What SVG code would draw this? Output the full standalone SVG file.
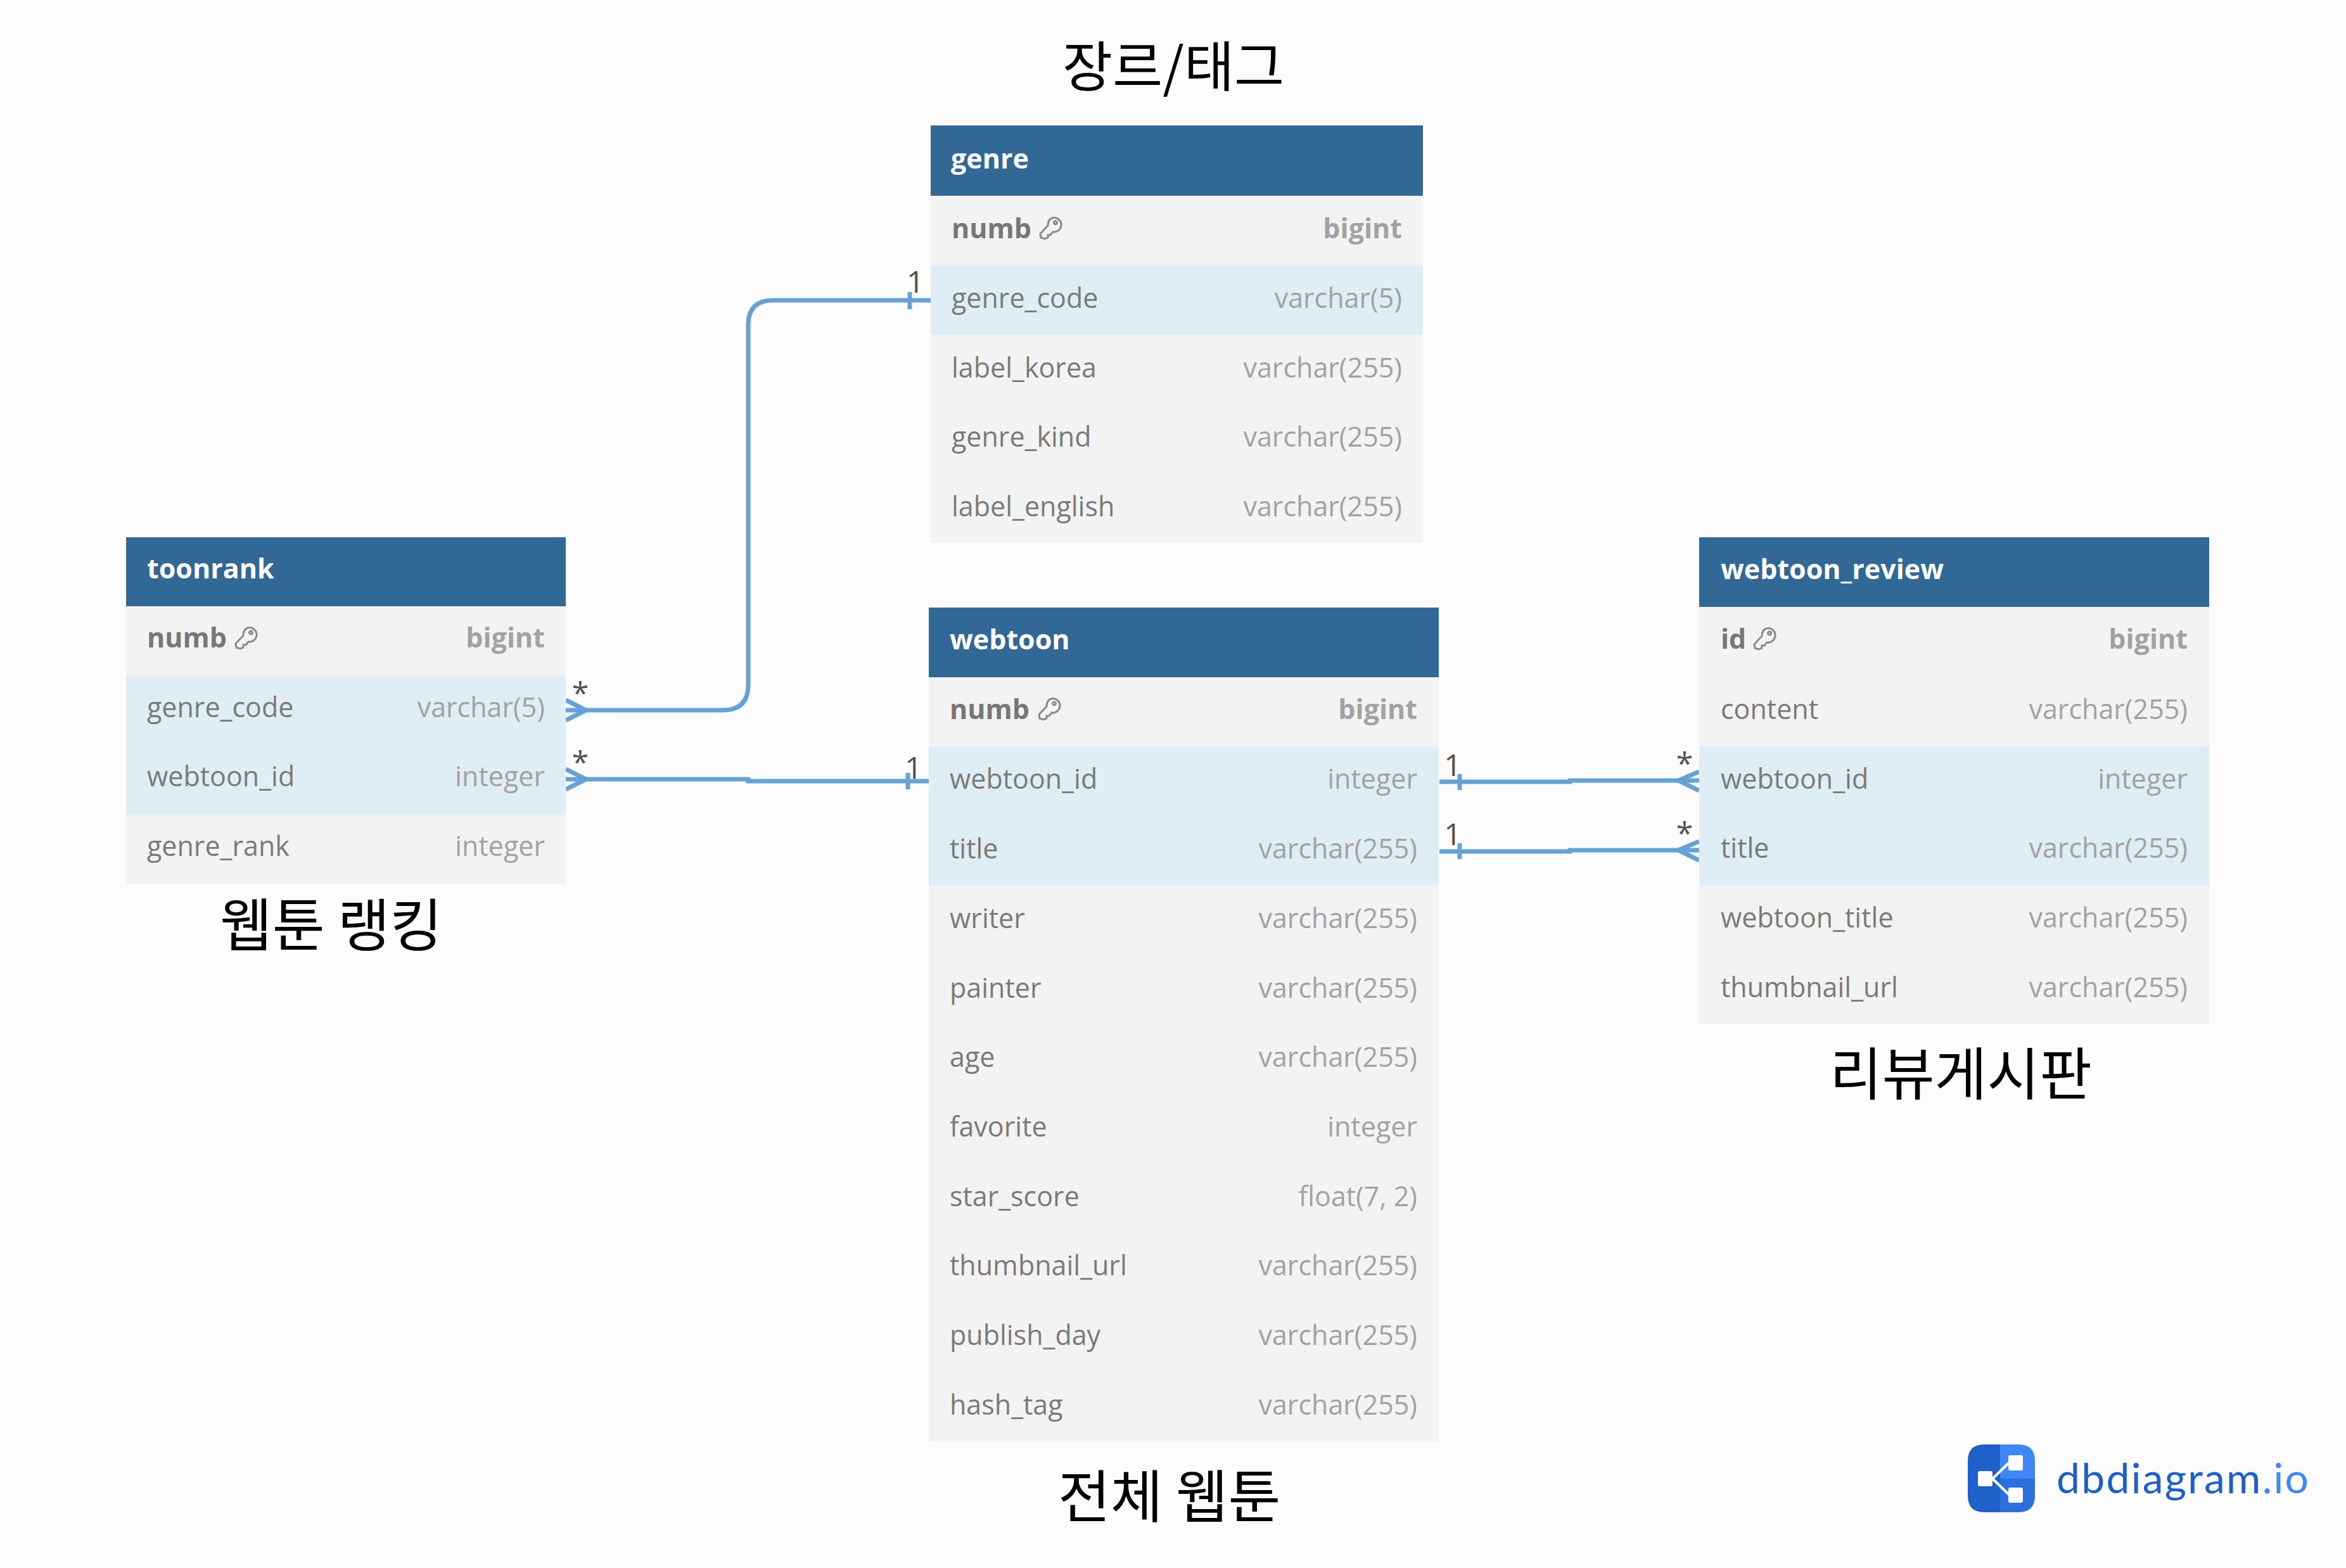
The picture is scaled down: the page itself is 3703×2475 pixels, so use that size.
<svg xmlns="http://www.w3.org/2000/svg" width="3703" height="2475" viewBox="0 0 3703 2475">
<style>
text{font-family:"Open Sans","Noto Sans",sans-serif}
.hd{fill:#316896}.r{fill:#f3f3f3}.h{fill:#dfedf5}
.t{font-size:43px;font-weight:700;fill:#fff}
.n{font-size:43px;fill:#7a7a7a}
.y{font-size:43px;fill:#a2a2a2;text-anchor:end}
.nb{font-size:43px;font-weight:700;fill:#777}
.yb{font-size:43px;font-weight:700;fill:#a2a2a2;text-anchor:end}
.c{fill:none;stroke:#66a2d6;stroke-width:7}
.m{font-size:48px;fill:#505050;text-anchor:middle}
.k{font-size:90px;fill:#000;font-family:"Noto Sans CJK KR","Noto Sans",sans-serif}
</style>
<defs>
<path id="key" d="M20 2C27 0 35 6 34 14C33 21 27 25 21 24L17 29L13 29L13 33L8 35L2 33L1 27L13 14C13 8 15 4 20 2Z M25 7A2.5 2.5 0 1 0 25.1 7Z" fill="none" stroke="#8a8a8a" stroke-width="3"/>
</defs>
<rect width="3703" height="2475" fill="#fcfcfc"/>
<g id="connectors">
<path class="c" d="M1469 474H1220Q1181 474 1181 513V1081Q1181 1121 1141 1121H893"/>
<path class="c" d="M893 1105L925 1121L893 1137"/>
<path class="c" d="M1436 461V488"/>
<path class="c" d="M893 1230H1181V1233H1466"/>
<path class="c" d="M893 1214L925 1230L893 1246"/>
<path class="c" d="M1433 1220V1246"/>
<path class="c" d="M2272 1234H2478V1232H2682"/>
<path class="c" d="M2682 1218L2649 1232L2682 1248"/>
<path class="c" d="M2304 1222V1247"/>
<path class="c" d="M2272 1344H2478V1342H2682"/>
<path class="c" d="M2682 1328L2649 1342L2682 1358"/>
<path class="c" d="M2304 1331V1356"/>
<text class="m" x="1445" y="462">1</text>
<text class="m" x="1442" y="1229">1</text>
<text class="m" x="2293" y="1225">1</text>
<text class="m" x="2293" y="1334">1</text>
<text class="m" x="916" y="1111">*</text>
<text class="m" x="916" y="1220">*</text>
<text class="m" x="2659" y="1222">*</text>
<text class="m" x="2659" y="1332">*</text>
</g>
<g id="genre">
<rect class="hd" x="1469" y="198" width="777" height="111"/>
<rect class="r" x="1469" y="309" width="777" height="548"/>
<rect class="h" x="1469" y="419" width="777" height="109"/>
<text class="t" x="1501" y="266">genre</text>
<text class="nb" x="1502" y="376">numb</text><use href="#key" x="1641" y="342"/><text class="yb" x="2213" y="376">bigint</text>
<text class="n" x="1502" y="486">genre_code</text><text class="y" x="2213" y="486">varchar(5)</text>
<text class="n" x="1502" y="596">label_korea</text><text class="y" x="2213" y="596">varchar(255)</text>
<text class="n" x="1502" y="705">genre_kind</text><text class="y" x="2213" y="705">varchar(255)</text>
<text class="n" x="1502" y="815">label_english</text><text class="y" x="2213" y="815">varchar(255)</text>
</g>
<g id="toonrank">
<rect class="hd" x="199" y="848" width="694" height="109"/>
<rect class="r" x="199" y="957" width="694" height="439"/>
<rect class="h" x="199" y="1067" width="694" height="219"/>
<text class="t" x="232" y="913">toonrank</text>
<text class="nb" x="232" y="1022">numb</text><use href="#key" x="371" y="989"/><text class="yb" x="860" y="1022">bigint</text>
<text class="n" x="232" y="1132">genre_code</text><text class="y" x="860" y="1132">varchar(5)</text>
<text class="n" x="232" y="1241">webtoon_id</text><text class="y" x="860" y="1241">integer</text>
<text class="n" x="232" y="1351">genre_rank</text><text class="y" x="860" y="1351">integer</text>
</g>
<g id="webtoon">
<rect class="hd" x="1466" y="959" width="805" height="110"/>
<rect class="r" x="1466" y="1069" width="805" height="1207"/>
<rect class="h" x="1466" y="1179" width="805" height="218"/>
<text class="t" x="1499" y="1025">webtoon</text>
<text class="nb" x="1499" y="1135">numb</text><use href="#key" x="1639" y="1101"/><text class="yb" x="2237" y="1135">bigint</text>
<text class="n" x="1499" y="1245">webtoon_id</text><text class="y" x="2237" y="1245">integer</text>
<text class="n" x="1499" y="1355">title</text><text class="y" x="2237" y="1355">varchar(255)</text>
<text class="n" x="1499" y="1465">writer</text><text class="y" x="2237" y="1465">varchar(255)</text>
<text class="n" x="1499" y="1575">painter</text><text class="y" x="2237" y="1575">varchar(255)</text>
<text class="n" x="1499" y="1684">age</text><text class="y" x="2237" y="1684">varchar(255)</text>
<text class="n" x="1499" y="1794">favorite</text><text class="y" x="2237" y="1794">integer</text>
<text class="n" x="1499" y="1904">star_score</text><text class="y" x="2237" y="1904">float(7, 2)</text>
<text class="n" x="1499" y="2013">thumbnail_url</text><text class="y" x="2237" y="2013">varchar(255)</text>
<text class="n" x="1499" y="2123">publish_day</text><text class="y" x="2237" y="2123">varchar(255)</text>
<text class="n" x="1499" y="2233">hash_tag</text><text class="y" x="2237" y="2233">varchar(255)</text>
</g>
<g id="webtoon_review">
<rect class="hd" x="2682" y="848" width="805" height="110"/>
<rect class="r" x="2682" y="958" width="805" height="659"/>
<rect class="h" x="2682" y="1178" width="805" height="219"/>
<text class="t" x="2716" y="914">webtoon_review</text>
<text class="nb" x="2716" y="1024">id</text><use href="#key" x="2768" y="990"/><text class="yb" x="3453" y="1024">bigint</text>
<text class="n" x="2716" y="1135">content</text><text class="y" x="3453" y="1135">varchar(255)</text>
<text class="n" x="2716" y="1245">webtoon_id</text><text class="y" x="3453" y="1245">integer</text>
<text class="n" x="2716" y="1354">title</text><text class="y" x="3453" y="1354">varchar(255)</text>
<text class="n" x="2716" y="1464">webtoon_title</text><text class="y" x="3453" y="1464">varchar(255)</text>
<text class="n" x="2716" y="1574">thumbnail_url</text><text class="y" x="3453" y="1574">varchar(255)</text>
</g>
<g id="captions">
<text class="k" x="1677" y="137" style="font-size:86px">장르/태그</text>
<text class="k" x="347" y="1493">웹툰 랭킹</text>
<text class="k" x="2888" y="1728">리뷰게시판</text>
<text class="k" x="1670" y="2395">전체 웹툰</text>
</g>
<g id="logo">
<path fill="#1f5fc9" d="M3157 2280H3132Q3106 2280 3106 2306V2361Q3106 2387 3132 2387H3157Z"/>
<path fill="#3f87f5" d="M3157 2280H3186Q3212 2280 3212 2306V2334H3157Z"/>
<path fill="#2a6fdc" d="M3157 2334H3212V2361Q3212 2387 3186 2387H3157Z"/>
<path fill="none" stroke="#fff" stroke-width="4" d="M3145 2334L3172 2308M3145 2334L3172 2360"/>
<rect x="3170" y="2297" width="23" height="24" rx="3" fill="#fff"/>
<rect x="3170" y="2348" width="23" height="24" rx="3" fill="#fff"/>
<rect x="3122" y="2322" width="23" height="24" rx="3" fill="#fff"/>
<text x="3246" y="2357" font-size="66" style="font-family:Lato,'Open Sans',sans-serif" fill="#1f5fc9" textLength="398">dbdiagram<tspan fill="#3f87f5">.io</tspan></text>
</g>
</svg>
